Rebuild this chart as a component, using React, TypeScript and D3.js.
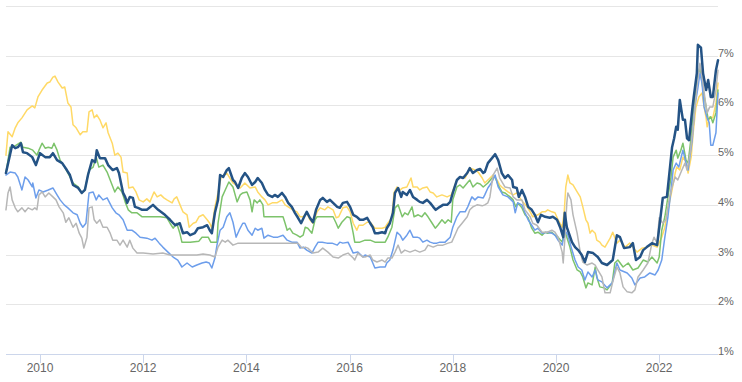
import React from "react";
import * as d3 from "d3";

type Pt = [number, number];

const yearTicks = [2010, 2012, 2014, 2016, 2018, 2020, 2022];
const rateTicks = [1, 2, 3, 4, 5, 6, 7, 8];
const rateLabels = ["1%", "2%", "3%", "4%", "5%", "6%", "7%", ""];

const seriesNavy: Pt[] = [
  [2009.34,4.64],[2009.46,5.20],[2009.52,5.14],[2009.57,5.16],[2009.63,5.24],[2009.67,5.06],[2009.75,5.04],[2009.85,4.96],[2009.92,4.80],
  [2010.00,5.04],[2010.10,4.96],[2010.19,4.96],[2010.25,5.04],[2010.33,4.90],[2010.43,4.84],[2010.52,4.70],[2010.58,4.60],[2010.64,4.40],
  [2010.74,4.34],[2010.81,4.24],[2010.87,4.30],[2010.93,4.60],[2011.01,4.90],[2011.07,4.86],[2011.10,5.10],[2011.16,4.94],[2011.26,4.94],
  [2011.32,4.80],[2011.41,4.70],[2011.49,4.74],[2011.53,4.64],[2011.61,4.24],[2011.65,4.16],[2011.69,4.04],[2011.74,4.16],[2011.80,4.14],
  [2011.84,3.96],[2011.90,3.94],[2011.98,3.90],[2012.07,3.90],[2012.19,4.00],[2012.29,3.90],[2012.42,3.80],[2012.52,3.70],[2012.62,3.59],
  [2012.71,3.63],[2012.77,3.43],[2012.85,3.45],[2012.91,3.39],[2013.00,3.43],[2013.06,3.53],[2013.16,3.55],[2013.24,3.59],[2013.29,3.49],
  [2013.33,3.43],[2013.39,3.84],[2013.45,4.10],[2013.49,4.60],[2013.55,4.56],[2013.62,4.70],[2013.66,4.74],[2013.74,4.50],[2013.78,4.46],
  [2013.84,4.34],[2013.91,4.54],[2013.97,4.64],[2014.03,4.56],[2014.11,4.40],[2014.17,4.46],[2014.22,4.54],[2014.30,4.44],[2014.36,4.30],
  [2014.42,4.20],[2014.50,4.16],[2014.55,4.20],[2014.61,4.16],[2014.69,4.24],[2014.75,4.16],[2014.81,4.04],[2014.88,3.96],[2014.94,3.84],
  [2015.00,3.74],[2015.06,3.63],[2015.12,3.76],[2015.17,3.86],[2015.23,3.74],[2015.29,3.65],[2015.35,3.90],[2015.43,4.10],[2015.48,4.14],
  [2015.56,4.06],[2015.62,4.10],[2015.68,4.04],[2015.76,3.96],[2015.81,3.94],[2015.87,4.04],[2015.95,4.06],[2016.01,3.96],[2016.07,3.80],
  [2016.14,3.76],[2016.20,3.70],[2016.26,3.70],[2016.34,3.74],[2016.40,3.63],[2016.45,3.55],[2016.49,3.43],[2016.55,3.43],[2016.63,3.45],
  [2016.69,3.43],[2016.72,3.53],[2016.78,3.63],[2016.84,3.84],[2016.88,4.24],[2016.94,4.34],[2017.00,4.16],[2017.03,4.26],[2017.11,4.20],
  [2017.17,4.30],[2017.23,4.16],[2017.31,4.10],[2017.36,4.06],[2017.42,4.04],[2017.50,4.10],[2017.56,4.04],[2017.62,3.96],[2017.67,3.90],
  [2017.75,3.96],[2017.81,4.00],[2017.89,4.00],[2017.95,4.06],[2018.00,4.24],[2018.08,4.50],[2018.14,4.56],[2018.20,4.54],[2018.28,4.64],
  [2018.33,4.74],[2018.39,4.64],[2018.47,4.70],[2018.53,4.72],[2018.59,4.64],[2018.62,4.66],[2018.68,4.84],[2018.76,4.94],[2018.82,5.02],
  [2018.88,4.90],[2018.95,4.64],[2019.01,4.54],[2019.07,4.60],[2019.15,4.50],[2019.17,4.36],[2019.24,4.34],[2019.28,4.16],[2019.34,4.30],
  [2019.40,4.16],[2019.46,3.96],[2019.53,3.90],[2019.59,3.80],[2019.65,3.65],[2019.71,3.80],[2019.79,3.76],[2019.88,3.74],[2019.94,3.76],
  [2020.02,3.70],[2020.08,3.55],[2020.14,3.35],[2020.17,3.84],[2020.21,3.55],[2020.25,3.43],[2020.31,3.25],[2020.37,3.15],[2020.43,3.09],
  [2020.50,2.99],[2020.56,2.85],[2020.62,3.05],[2020.72,3.03],[2020.81,2.95],[2020.89,2.83],[2020.99,2.79],[2021.10,2.89],[2021.18,3.39],
  [2021.24,3.35],[2021.32,3.13],[2021.43,3.15],[2021.49,3.23],[2021.55,2.89],[2021.63,2.95],[2021.69,3.09],[2021.76,3.15],[2021.86,3.23],
  [2021.96,3.19],[2022.02,3.70],[2022.07,4.14],[2022.15,4.16],[2022.21,4.76],[2022.25,5.16],[2022.29,5.34],[2022.33,5.57],[2022.36,5.51],
  [2022.40,6.11],[2022.46,5.71],[2022.50,5.71],[2022.54,5.34],[2022.58,5.30],[2022.64,5.91],[2022.67,6.17],[2022.73,6.65],[2022.75,7.22],
  [2022.81,7.16],[2022.85,6.65],[2022.91,6.31],[2022.95,6.51],[2023.00,6.17],[2023.04,6.17],[2023.10,6.71],[2023.14,6.91],
];

const seriesYellow: Pt[] = [
  [2009.34,5.00],[2009.38,5.47],[2009.46,5.37],[2009.52,5.55],[2009.57,5.65],[2009.65,5.75],[2009.75,5.91],[2009.85,5.99],[2009.90,5.95],
  [2009.96,6.17],[2010.04,6.31],[2010.14,6.45],[2010.19,6.47],[2010.25,6.57],[2010.29,6.59],[2010.35,6.47],[2010.43,6.35],[2010.48,6.37],
  [2010.54,6.05],[2010.60,5.97],[2010.64,5.61],[2010.70,5.55],[2010.78,5.41],[2010.83,5.47],[2010.91,5.47],[2010.95,5.87],[2011.01,5.91],
  [2011.05,5.75],[2011.10,5.81],[2011.16,5.71],[2011.22,5.55],[2011.28,5.65],[2011.32,5.45],[2011.40,5.24],[2011.45,5.00],[2011.51,5.04],
  [2011.57,4.96],[2011.61,4.66],[2011.69,4.64],[2011.72,4.34],[2011.80,4.36],[2011.86,4.26],[2011.92,4.10],[2012.00,4.06],[2012.07,4.12],
  [2012.13,4.06],[2012.21,4.26],[2012.27,4.16],[2012.34,4.20],[2012.40,4.14],[2012.46,4.10],[2012.56,4.04],[2012.60,4.12],[2012.65,4.16],
  [2012.73,3.96],[2012.77,3.86],[2012.85,3.80],[2012.89,3.55],[2012.97,3.63],[2013.02,3.65],[2013.08,3.76],[2013.16,3.80],[2013.24,3.70],
  [2013.29,3.63],[2013.33,3.53],[2013.39,3.96],[2013.45,4.24],[2013.51,4.56],[2013.62,4.64],[2013.74,4.44],[2013.88,4.34],[2013.97,4.44],
  [2014.07,4.34],[2014.17,4.36],[2014.22,4.26],[2014.30,4.16],[2014.36,4.10],[2014.42,4.00],[2014.50,4.04],[2014.59,4.04],[2014.69,4.10],
  [2014.75,4.00],[2014.81,3.96],[2014.90,3.90],[2014.98,3.86],[2015.04,3.76],[2015.10,3.76],[2015.17,3.84],[2015.23,3.70],[2015.29,3.63],
  [2015.37,3.86],[2015.43,3.94],[2015.52,3.90],[2015.58,3.96],[2015.68,3.90],[2015.74,3.74],[2015.79,3.76],[2015.87,3.94],[2015.95,3.96],
  [2016.01,3.86],[2016.07,3.63],[2016.14,3.49],[2016.18,3.59],[2016.26,3.59],[2016.34,3.65],[2016.40,3.65],[2016.49,3.53],[2016.63,3.53],
  [2016.69,3.55],[2016.74,3.63],[2016.82,3.74],[2016.86,4.24],[2016.92,4.36],[2016.98,4.30],[2017.03,4.34],[2017.11,4.36],[2017.19,4.54],
  [2017.23,4.36],[2017.31,4.36],[2017.36,4.30],[2017.42,4.34],[2017.50,4.36],[2017.56,4.26],[2017.62,4.24],[2017.69,4.16],[2017.79,4.20],
  [2017.89,4.16],[2017.97,4.20],[2018.02,4.34],[2018.08,4.50],[2018.14,4.56],[2018.24,4.54],[2018.33,4.74],[2018.43,4.70],[2018.49,4.66],
  [2018.57,4.54],[2018.62,4.44],[2018.72,4.54],[2018.78,4.60],[2018.86,4.50],[2018.91,4.40],[2018.97,4.34],[2019.07,4.26],[2019.17,4.20],
  [2019.24,4.24],[2019.30,4.14],[2019.36,4.06],[2019.44,3.96],[2019.50,3.86],[2019.55,3.76],[2019.65,3.80],[2019.73,3.86],[2019.79,3.86],
  [2019.84,3.90],[2019.92,3.86],[2019.98,3.84],[2020.04,3.70],[2020.12,3.55],[2020.16,3.86],[2020.19,4.36],[2020.23,4.60],[2020.27,4.44],
  [2020.33,4.40],[2020.41,4.26],[2020.47,4.16],[2020.52,3.96],[2020.58,3.70],[2020.62,3.63],[2020.66,3.43],[2020.70,3.49],[2020.76,3.43],
  [2020.79,3.29],[2020.85,3.25],[2020.89,3.19],[2020.95,3.15],[2021.05,3.33],[2021.10,3.45],[2021.18,3.23],[2021.24,3.29],[2021.34,3.15],
  [2021.43,3.23],[2021.49,3.15],[2021.57,3.05],[2021.67,3.13],[2021.76,3.15],[2021.86,3.19],[2021.96,3.15],[2022.05,3.35],[2022.11,3.55],
  [2022.17,3.90],[2022.25,4.30],[2022.31,4.64],[2022.34,4.76],[2022.40,4.70],[2022.46,4.96],[2022.52,4.86],[2022.56,4.64],[2022.62,4.96],
  [2022.66,5.45],[2022.71,5.95],[2022.77,6.17],[2022.83,6.25],[2022.87,5.97],[2022.91,5.75],[2022.93,5.57],[2022.98,5.77],[2023.04,5.75],
  [2023.10,6.05],[2023.14,6.45],
];

const seriesGreen: Pt[] = [
  [2009.34,4.64],[2009.42,5.16],[2009.48,5.16],[2009.57,5.22],[2009.63,5.26],[2009.67,5.16],[2009.77,5.14],[2009.86,5.10],[2009.94,5.00],
  [2009.98,5.10],[2010.04,5.24],[2010.10,5.14],[2010.16,5.16],[2010.23,5.14],[2010.27,5.24],[2010.33,5.10],[2010.39,4.90],[2010.48,4.76],
  [2010.58,4.56],[2010.64,4.44],[2010.74,4.36],[2010.81,4.24],[2010.87,4.30],[2010.95,4.70],[2011.03,4.76],[2011.09,4.96],[2011.14,4.76],
  [2011.22,4.80],[2011.30,4.66],[2011.36,4.50],[2011.45,4.26],[2011.51,4.36],[2011.59,4.26],[2011.65,4.06],[2011.71,3.90],[2011.78,3.84],
  [2011.88,3.84],[2011.98,3.76],[2012.13,3.76],[2012.33,3.76],[2012.46,3.74],[2012.52,3.63],[2012.58,3.53],[2012.65,3.63],[2012.71,3.43],
  [2012.75,3.25],[2012.91,3.25],[2013.08,3.27],[2013.14,3.35],[2013.26,3.35],[2013.31,3.25],[2013.43,3.25],[2013.45,3.63],[2013.53,4.16],
  [2013.59,4.30],[2013.66,4.46],[2013.74,4.36],[2013.82,4.06],[2013.88,4.20],[2013.93,4.24],[2014.01,4.26],[2014.07,4.10],[2014.11,3.86],
  [2014.15,4.10],[2014.21,4.04],[2014.26,4.10],[2014.32,4.00],[2014.34,3.76],[2014.52,3.76],[2014.71,3.76],[2014.75,3.63],[2014.79,3.49],
  [2014.84,3.53],[2014.90,3.43],[2014.98,3.39],[2015.04,3.35],[2015.10,3.39],[2015.14,3.55],[2015.19,3.53],[2015.27,3.43],[2015.33,3.70],
  [2015.37,3.76],[2015.56,3.76],[2015.68,3.76],[2015.74,3.63],[2015.78,3.53],[2015.85,3.65],[2015.95,3.76],[2016.01,3.74],[2016.07,3.43],
  [2016.10,3.25],[2016.20,3.25],[2016.30,3.29],[2016.40,3.29],[2016.49,3.25],[2016.69,3.25],[2016.74,3.35],[2016.82,3.55],[2016.88,3.94],
  [2016.94,4.00],[2017.02,3.76],[2017.07,3.84],[2017.13,3.80],[2017.21,3.96],[2017.25,3.76],[2017.33,3.80],[2017.40,3.76],[2017.46,3.84],
  [2017.52,3.76],[2017.60,3.63],[2017.66,3.53],[2017.71,3.59],[2017.79,3.70],[2017.85,3.63],[2017.91,3.70],[2017.97,3.65],[2018.00,4.10],
  [2018.08,4.36],[2018.14,4.40],[2018.20,4.34],[2018.28,4.44],[2018.33,4.50],[2018.39,4.36],[2018.47,4.44],[2018.53,4.42],[2018.59,4.36],
  [2018.68,4.44],[2018.76,4.54],[2018.82,4.56],[2018.88,4.40],[2018.95,4.26],[2019.01,4.24],[2019.11,4.16],[2019.17,4.10],[2019.22,3.96],
  [2019.26,4.04],[2019.34,3.94],[2019.40,3.80],[2019.46,3.74],[2019.53,3.53],[2019.59,3.43],[2019.65,3.45],[2019.73,3.39],[2019.79,3.45],
  [2019.84,3.43],[2019.92,3.45],[2019.98,3.39],[2020.04,3.35],[2020.12,3.25],[2020.17,3.49],[2020.21,3.35],[2020.27,3.15],[2020.33,2.89],
  [2020.41,2.69],[2020.47,2.65],[2020.52,2.55],[2020.58,2.33],[2020.62,2.43],[2020.70,2.39],[2020.76,2.75],[2020.79,2.55],[2020.85,2.35],
  [2020.93,2.33],[2020.99,2.29],[2021.09,2.43],[2021.14,2.83],[2021.20,2.89],[2021.30,2.75],[2021.40,2.83],[2021.49,2.69],[2021.59,2.73],
  [2021.69,2.89],[2021.78,2.85],[2021.86,2.95],[2021.96,2.83],[2022.00,2.95],[2022.05,3.49],[2022.11,3.76],[2022.17,4.16],[2022.23,4.56],
  [2022.27,4.96],[2022.33,5.10],[2022.36,4.94],[2022.42,5.10],[2022.46,5.24],[2022.52,4.90],[2022.56,4.84],[2022.62,5.37],[2022.66,5.85],
  [2022.73,6.51],[2022.79,6.77],[2022.85,6.31],[2022.91,5.97],[2022.95,5.71],[2023.00,5.77],[2023.04,5.65],[2023.10,5.85],[2023.14,6.31],
];

const seriesSky: Pt[] = [
  [2009.34,4.60],[2009.42,4.66],[2009.52,4.64],[2009.57,4.56],[2009.65,4.30],[2009.71,4.56],[2009.77,4.50],[2009.85,4.36],[2009.86,4.44],
  [2009.92,4.14],[2009.98,4.30],[2010.06,4.26],[2010.16,4.30],[2010.25,4.34],[2010.33,4.20],[2010.39,4.10],[2010.47,4.00],[2010.54,3.94],
  [2010.64,3.84],[2010.72,3.80],[2010.78,3.63],[2010.83,3.55],[2010.89,3.63],[2010.95,4.24],[2011.03,4.26],[2011.09,4.10],[2011.14,4.20],
  [2011.22,4.10],[2011.30,4.14],[2011.40,3.94],[2011.47,3.84],[2011.53,3.80],[2011.61,3.70],[2011.69,3.49],[2011.78,3.49],[2011.86,3.43],
  [2011.94,3.35],[2012.07,3.33],[2012.17,3.29],[2012.23,3.33],[2012.31,3.23],[2012.38,3.15],[2012.48,3.05],[2012.58,2.95],[2012.67,2.89],
  [2012.75,2.75],[2012.85,2.83],[2012.95,2.75],[2013.04,2.79],[2013.14,2.83],[2013.22,2.85],[2013.28,2.83],[2013.33,2.73],[2013.39,2.93],
  [2013.43,3.19],[2013.49,3.49],[2013.55,3.55],[2013.62,3.76],[2013.68,3.84],[2013.74,3.65],[2013.80,3.35],[2013.86,3.49],[2013.93,3.63],
  [2013.97,3.63],[2014.03,3.49],[2014.11,3.39],[2014.17,3.53],[2014.22,3.49],[2014.30,3.53],[2014.34,3.33],[2014.42,3.39],[2014.52,3.35],
  [2014.61,3.35],[2014.71,3.39],[2014.79,3.29],[2014.88,3.25],[2014.98,3.25],[2015.04,3.13],[2015.10,3.15],[2015.17,3.09],[2015.27,3.03],
  [2015.33,3.15],[2015.39,3.25],[2015.47,3.25],[2015.56,3.23],[2015.66,3.23],[2015.76,3.19],[2015.81,3.25],[2015.87,3.23],[2015.97,3.25],
  [2016.07,3.03],[2016.16,3.05],[2016.26,2.95],[2016.30,2.99],[2016.40,2.95],[2016.45,2.83],[2016.49,2.73],[2016.59,2.75],[2016.69,2.75],
  [2016.72,2.83],[2016.78,2.89],[2016.84,3.09],[2016.92,3.45],[2016.98,3.39],[2017.03,3.29],[2017.11,3.39],[2017.17,3.49],[2017.23,3.35],
  [2017.31,3.35],[2017.36,3.33],[2017.42,3.25],[2017.50,3.29],[2017.56,3.25],[2017.62,3.23],[2017.69,3.23],[2017.75,3.25],[2017.85,3.25],
  [2017.95,3.35],[2018.00,3.55],[2018.08,3.76],[2018.14,3.86],[2018.24,3.86],[2018.29,3.96],[2018.37,4.16],[2018.43,4.10],[2018.49,4.16],
  [2018.59,4.14],[2018.62,4.20],[2018.68,4.34],[2018.76,4.46],[2018.82,4.60],[2018.88,4.36],[2018.97,4.20],[2019.07,4.16],[2019.17,4.06],
  [2019.21,3.84],[2019.26,4.04],[2019.34,4.00],[2019.40,3.84],[2019.46,3.70],[2019.53,3.59],[2019.59,3.49],[2019.65,3.53],[2019.73,3.43],
  [2019.83,3.45],[2019.92,3.43],[2019.98,3.39],[2020.04,3.29],[2020.12,3.19],[2020.17,3.49],[2020.23,3.39],[2020.31,3.09],[2020.37,2.89],
  [2020.43,2.75],[2020.50,2.69],[2020.56,2.49],[2020.62,2.65],[2020.70,2.55],[2020.76,2.69],[2020.81,2.49],[2020.89,2.45],[2020.99,2.33],
  [2021.09,2.43],[2021.18,2.83],[2021.24,2.69],[2021.38,2.63],[2021.47,2.53],[2021.53,2.39],[2021.63,2.53],[2021.72,2.55],[2021.82,2.63],
  [2021.92,2.59],[2021.98,2.69],[2022.05,2.89],[2022.11,3.35],[2022.17,3.76],[2022.23,4.30],[2022.27,4.70],[2022.33,4.84],[2022.38,4.76],
  [2022.46,5.10],[2022.52,4.84],[2022.56,4.70],[2022.64,5.30],[2022.69,5.97],[2022.75,6.35],[2022.79,6.65],[2022.83,6.45],[2022.87,5.97],
  [2022.93,5.75],[2022.97,5.65],[2023.00,5.20],[2023.04,5.20],[2023.10,5.45],[2023.14,6.25],
];

const seriesGray: Pt[] = [
  [2009.34,3.90],[2009.38,4.24],[2009.42,4.36],[2009.46,4.10],[2009.52,3.94],[2009.57,3.86],[2009.65,3.94],[2009.71,3.86],[2009.77,3.94],
  [2009.85,3.90],[2009.90,3.94],[2009.94,3.90],[2009.98,4.20],[2010.04,4.26],[2010.10,4.16],[2010.17,4.24],[2010.25,4.16],[2010.31,4.10],
  [2010.37,3.96],[2010.45,3.84],[2010.50,3.65],[2010.56,3.74],[2010.64,3.55],[2010.70,3.63],[2010.76,3.43],[2010.81,3.33],[2010.85,3.13],
  [2010.91,3.35],[2010.95,3.94],[2011.01,3.96],[2011.05,3.70],[2011.10,3.63],[2011.16,3.70],[2011.22,3.55],[2011.30,3.55],[2011.36,3.43],
  [2011.41,3.29],[2011.49,3.29],[2011.55,3.19],[2011.61,3.29],[2011.69,3.15],[2011.74,3.29],[2011.80,3.13],[2011.88,3.03],[2012.00,3.03],
  [2012.19,3.01],[2012.38,3.03],[2012.52,2.99],[2012.65,2.99],[2012.85,2.99],[2013.04,2.99],[2013.16,3.01],[2013.29,2.99],[2013.39,2.95],
  [2013.45,3.15],[2013.53,3.29],[2013.59,3.25],[2013.64,3.29],[2013.74,3.19],[2013.84,3.23],[2014.07,3.23],[2014.26,3.23],[2014.46,3.23],
  [2014.65,3.23],[2014.84,3.23],[2015.00,3.23],[2015.08,3.13],[2015.14,3.15],[2015.19,3.13],[2015.29,3.03],[2015.39,3.05],[2015.48,3.13],
  [2015.58,3.05],[2015.68,2.95],[2015.78,2.93],[2015.87,2.99],[2015.97,3.03],[2016.07,2.93],[2016.10,2.89],[2016.16,3.03],[2016.26,2.95],
  [2016.30,2.95],[2016.40,2.99],[2016.45,2.89],[2016.53,2.85],[2016.63,2.89],[2016.69,2.85],[2016.74,2.93],[2016.82,2.93],[2016.88,3.05],
  [2016.94,3.19],[2017.00,3.03],[2017.07,3.09],[2017.17,3.05],[2017.27,3.09],[2017.36,3.05],[2017.46,3.09],[2017.52,3.19],[2017.62,3.15],
  [2017.71,3.19],[2017.81,3.19],[2017.91,3.23],[2017.98,3.25],[2018.04,3.39],[2018.10,3.53],[2018.18,3.63],[2018.28,3.76],[2018.33,3.90],
  [2018.39,3.96],[2018.47,4.00],[2018.57,3.98],[2018.62,4.00],[2018.68,4.04],[2018.72,4.16],[2018.78,4.60],[2018.86,4.74],[2018.91,4.54],
  [2019.01,4.36],[2019.11,4.34],[2019.17,4.16],[2019.24,4.10],[2019.34,4.10],[2019.40,3.90],[2019.50,3.76],[2019.55,3.63],[2019.63,3.59],
  [2019.73,3.45],[2019.83,3.45],[2019.92,3.49],[2019.98,3.45],[2020.04,3.35],[2020.12,3.05],[2020.14,2.83],[2020.17,3.29],[2020.21,4.04],
  [2020.23,4.24],[2020.29,4.10],[2020.33,3.80],[2020.41,3.43],[2020.47,3.05],[2020.52,2.85],[2020.60,2.79],[2020.70,2.83],[2020.76,2.79],
  [2020.81,2.69],[2020.89,2.55],[2020.95,2.23],[2021.05,2.23],[2021.10,2.45],[2021.18,2.75],[2021.24,2.63],[2021.30,2.35],[2021.38,2.25],
  [2021.47,2.23],[2021.53,2.29],[2021.59,2.55],[2021.69,2.69],[2021.78,2.83],[2021.86,3.23],[2021.90,3.35],[2021.96,3.23],[2022.00,3.74],
  [2022.07,3.63],[2022.13,3.70],[2022.19,4.10],[2022.25,4.36],[2022.31,4.56],[2022.36,4.50],[2022.44,4.70],[2022.50,4.84],[2022.54,4.70],
  [2022.60,5.04],[2022.66,5.57],[2022.69,5.91],[2022.73,6.37],[2022.79,6.85],[2022.85,6.45],[2022.89,6.11],[2022.93,5.85],[2022.98,5.97],
  [2023.04,5.97],[2023.10,6.31],[2023.14,6.71],
];

const seriesList = [
  { data: seriesYellow, color: "#ffd966", width: 1.5 },
  { data: seriesGreen, color: "#7dc36b", width: 1.5 },
  { data: seriesSky, color: "#6d9eeb", width: 1.5 },
  { data: seriesGray, color: "#b7b7b7", width: 1.5 },
  { data: seriesNavy, color: "#245385", width: 2.5 },
];

const W = 742;
const H = 382;
const plotLeft = 6;
const plotRight = 718;
const plotTop = 6;
const plotBottom = 354;

export default function App() {
  const x = d3.scaleLinear().domain([2009.341, 2023.14]).range([plotLeft, plotRight]);
  const y = d3.scaleLinear().domain([1, 8]).range([plotBottom, plotTop]);
  const line = d3
    .line<Pt>()
    .x((d) => x(d[0]))
    .y((d) => y(d[1]))
    .curve(d3.curveLinear);

  return (
    <svg
      width={W}
      height={H}
      style={{ position: "absolute", left: 0, top: 0, background: "#fff" }}
      fontFamily="'Liberation Sans', Arial, sans-serif"
    >
      {rateTicks.map((t, i) => (
        <g key={"g" + t}>
          {t > 1 && (
            <line
              x1={plotLeft}
              x2={plotRight}
              y1={Math.round(y(t)) + 0.5}
              y2={Math.round(y(t)) + 0.5}
              stroke="#e6e6e6"
              strokeWidth={1}
            />
          )}
          {rateLabels[i] && (
            <text x={718} y={y(t) + 1} fontSize={11} fill="#666666">
              {rateLabels[i]}
            </text>
          )}
        </g>
      ))}
      <line
        x1={plotLeft}
        x2={plotRight}
        y1={plotBottom + 0.5}
        y2={plotBottom + 0.5}
        stroke="#ccd6eb"
        strokeWidth={1}
      />
      {yearTicks.map((t) => (
        <g key={"x" + t}>
          <line
            x1={Math.round(x(t)) + 0.5}
            x2={Math.round(x(t)) + 0.5}
            y1={plotBottom}
            y2={plotBottom + 9}
            stroke="#ccd6eb"
            strokeWidth={1}
          />
          <text x={x(t)} y={372} fontSize={12} fill="#666666" textAnchor="middle">
            {String(t)}
          </text>
        </g>
      ))}
      {seriesList.map((s, i) => (
        <path
          key={i}
          d={line(s.data) || ""}
          fill="none"
          stroke={s.color}
          strokeWidth={s.width}
          strokeLinejoin="round"
          strokeLinecap="round"
        />
      ))}
    </svg>
  );
}
